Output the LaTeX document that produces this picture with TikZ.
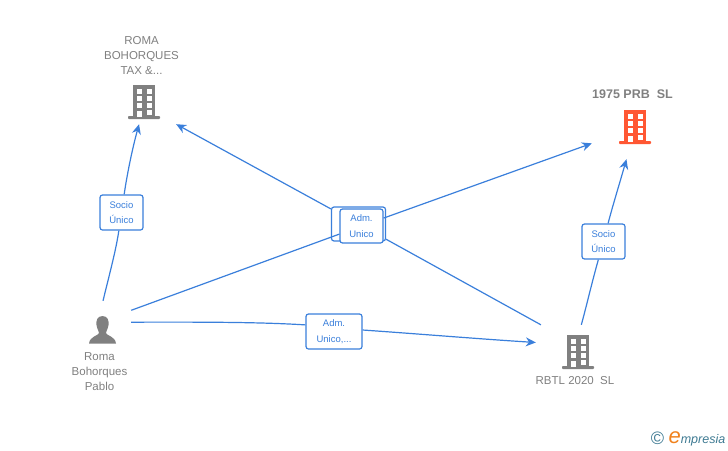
\documentclass[tikz,border=0pt]{standalone}
\usepackage{fontspec}
\setmainfont{Liberation Sans}
\usepackage{tikz}
\usetikzlibrary{arrows.meta,positioning}
\usepackage{xcolor}
\definecolor{elblue}{RGB}{58,127,219}
\definecolor{elgrey}{RGB}{128,128,128}
\definecolor{elorange}{RGB}{255,87,51}
\definecolor{elteal}{RGB}{62,122,146}
\definecolor{elmark}{RGB}{240,130,30}
\tikzstyle{arrow} = [line width=1.2pt,->,>={Stealth[length=10pt,width=9pt]},color=elblue]
\tikzstyle{plain} = [line width=1.2pt,color=elblue]
\tikzstyle{relbox} = [rectangle, rounded corners=2.5pt, draw=elblue, fill=white, line width=1.2pt, text=elblue, align=center, font=\fontsize{9.5}{15.5}\selectfont, inner sep=0pt]
\tikzstyle{entity} = [rectangle, inner sep=0pt]
\tikzstyle{caption} = [text=elgrey, align=center, font=\fontsize{11.5}{15}\selectfont, inner sep=0pt]
\newcommand{\buildingicon}[3]{
  \fill[#3] (#1,#2) rectangle ++(22,32);
  \fill[#3, rounded corners=0.8pt] (#1-5,#2+31) rectangle ++(32,3);
  \foreach \wy in {4,11,18} {
    \fill[white] (#1+4,#2+\wy) rectangle ++(5,4.5);
    \fill[white] (#1+14,#2+\wy) rectangle ++(5,4.5);
  }
  \fill[white] (#1+4,#2+26) rectangle ++(5,5.5);
  \fill[white] (#1+14,#2+25) rectangle ++(5,4.5);
}
\begin{document}
\begin{tikzpicture}[x=1pt,y=-1pt]
\useasboundingbox (0,0) rectangle (728,450);

% Icons
\buildingicon{133}{85}{elgrey}
\buildingicon{624}{110}{elorange}
\buildingicon{567}{335}{elgrey}
\fill[elgrey] (102.5,316) .. controls (97,316) and (96,321) .. (96.5,325) .. controls (97,329) and (99,331) .. (99,333) .. controls (98,336) and (90,336) .. (89,343.5) -- (116,343.5) .. controls (115,336) and (107,336) .. (106,333) .. controls (106,331) and (108,329) .. (108.5,325) .. controls (109,321) and (108,316) .. (102.5,316) -- cycle;

% Entities
\node (romatax) [entity, minimum width=62pt, minimum height=44pt] at (145,102) {};
\node (prb) [entity, minimum width=86pt, minimum height=68pt] at (635,125) {};
\node (rbtl) [entity, minimum width=82pt, minimum height=54pt] at (577,352) {};
\node (pablo) [entity, minimum width=58pt, minimum height=58pt] at (102,330) {};

% Captions
\node (romataxtext) [caption] at (141.5,56) {ROMA\\BOHORQUES\\TAX \&...};
\node (prbtext) [caption, font=\fontsize{12.5}{15}\selectfont\bfseries] at (632.5,94) {1975 PRB\ \ SL};
\node (rbtltext) [caption] at (575,381) {RBTL 2020\ \ SL};
\node (pablotext) [caption] at (99.5,372) {Roma\\Bohorques\\Pablo};

% Relation labels
\node (socioa) [relbox, minimum width=43pt, minimum height=35pt] at (121.5,212.5) {Socio\\Único};
\node (sociob) [relbox, minimum width=43pt, minimum height=35pt] at (603.5,241.5) {Socio\\Único};
\node (admback) [relbox, minimum width=54pt, minimum height=34pt] at (358.5,224) {};
\node (admfront) [relbox, minimum width=43pt, minimum height=34pt] at (361.5,226) {Adm.\\Unico};
\node (admdots) [relbox, minimum width=56pt, minimum height=35pt] at (334,331.5) {Adm.\\Unico,...};

% Connections
\draw[plain] (pablo.88) .. controls (110,272) and (116,250) .. (socioa);
\draw[arrow] (socioa) .. controls (127,175) and (132,150) .. (romatax.255);
\draw[plain] (rbtl.143.9) -- (admback);
\draw[arrow] (admback) -- (romatax.south east);
\draw[plain] (pablo.34.6) -- (admfront);
\draw[arrow] (admfront) -- (prb.203.8);
\draw[plain] (pablo.15.4) .. controls (200,322) and (260,322) .. (admdots.167);
\draw[arrow] (admdots.3) .. controls (420,334) and (480,339) .. (rbtl.167.6);
\draw[plain] (rbtl.81.6) .. controls (586,308) and (592,282) .. (sociob);
\draw[arrow] (sociob) .. controls (612,208) and (620,182) .. (prb.256.8);

% Mark
\node (copymark) [inner sep=0pt, text=elteal, font=\fontsize{18}{18}\selectfont] at (657.5,438.5) {©};
\node (markname) [right=4pt of copymark, inner sep=0pt, text=elteal, font=\fontsize{12.5}{12.5}\selectfont\itshape] {\textcolor{elmark}{\fontsize{22}{22}\selectfont e}mpresia};
\end{tikzpicture}
\end{document}
